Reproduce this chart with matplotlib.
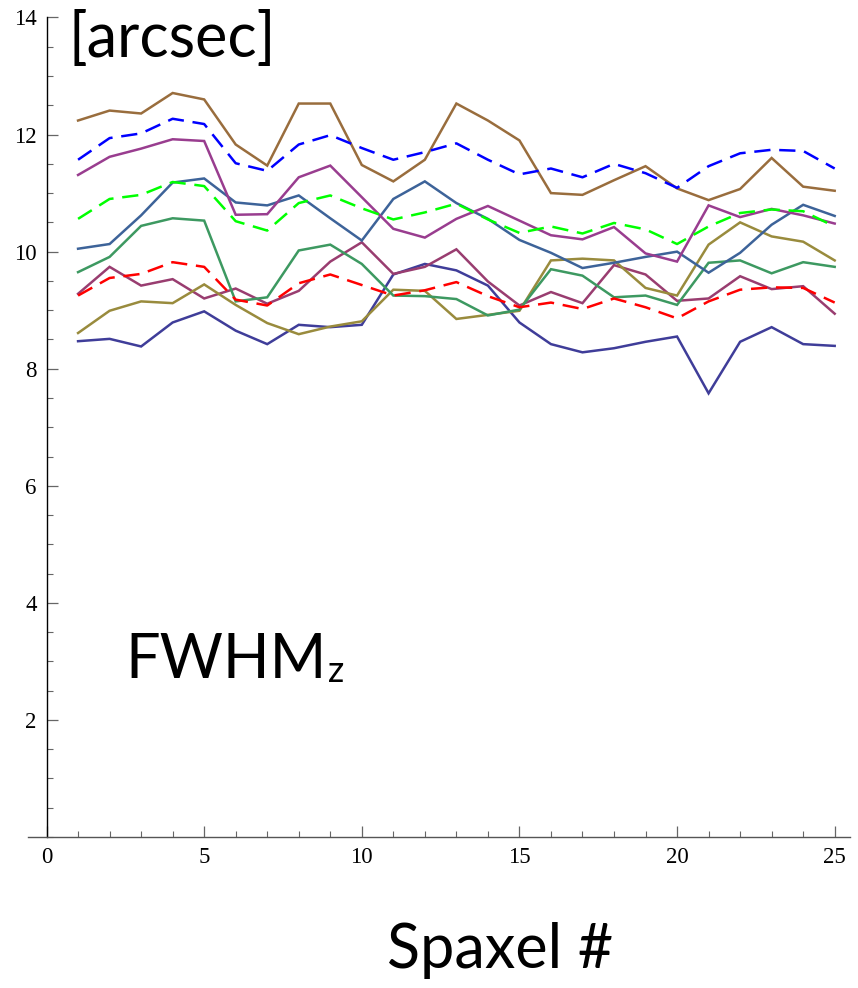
import matplotlib
matplotlib.use("Agg")
import matplotlib.pyplot as plt
from matplotlib.ticker import MultipleLocator

spaxel = list(range(1, 26))

navy = [8.47, 8.51, 8.38, 8.79, 8.98, 8.65, 8.42, 8.75, 8.71, 8.75, 9.61, 9.79, 9.68, 9.42, 8.79,
        8.42, 8.28, 8.35, 8.46, 8.55, 7.58, 8.46, 8.71, 8.42, 8.39]
plum = [9.28, 9.74, 9.42, 9.53, 9.20, 9.37, 9.11, 9.33, 9.83, 10.16, 9.62, 9.74, 10.04, 9.49, 9.08,
        9.31, 9.12, 9.77, 9.61, 9.16, 9.20, 9.58, 9.36, 9.41, 8.94]
olive = [8.61, 8.99, 9.15, 9.12, 9.44, 9.09, 8.78, 8.59, 8.72, 8.81, 9.35, 9.33, 8.85, 8.92, 8.99,
         9.85, 9.88, 9.85, 9.38, 9.25, 10.12, 10.50, 10.26, 10.17, 9.85]
green = [9.65, 9.91, 10.44, 10.57, 10.53, 9.15, 9.22, 10.02, 10.12, 9.79, 9.25, 9.24, 9.19, 8.91, 9.01,
         9.70, 9.59, 9.22, 9.25, 9.09, 9.81, 9.85, 9.63, 9.82, 9.74]
steel = [10.05, 10.13, 10.62, 11.18, 11.25, 10.84, 10.79, 10.96, 10.57, 10.19, 10.90, 11.20, 10.83, 10.56, 10.20,
         9.98, 9.72, 9.81, 9.91, 10.00, 9.64, 9.98, 10.46, 10.80, 10.61]
purple = [11.31, 11.62, 11.76, 11.92, 11.89, 10.63, 10.64, 11.27, 11.47, 10.93, 10.39, 10.24, 10.56, 10.78, 10.53,
          10.28, 10.21, 10.42, 9.97, 9.83, 10.79, 10.59, 10.73, 10.62, 10.48]
brown = [12.24, 12.41, 12.36, 12.71, 12.60, 11.83, 11.47, 12.53, 12.53, 11.48, 11.20, 11.57, 12.53, 12.24, 11.90,
         11.00, 10.97, 11.22, 11.46, 11.08, 10.88, 11.07, 11.60, 11.11, 11.04]
red_dash = [9.25, 9.55, 9.62, 9.82, 9.74, 9.18, 9.08, 9.46, 9.61, 9.43, 9.25, 9.34, 9.48, 9.24, 9.05,
            9.13, 9.02, 9.20, 9.05, 8.86, 9.15, 9.35, 9.39, 9.38, 9.13]
green_dash = [10.56, 10.90, 10.97, 11.19, 11.12, 10.52, 10.36, 10.83, 10.96, 10.74, 10.55, 10.67, 10.82, 10.55, 10.32,
              10.43, 10.31, 10.49, 10.38, 10.13, 10.43, 10.66, 10.72, 10.69, 10.43]
blue_dash = [11.57, 11.94, 12.02, 12.27, 12.18, 11.51, 11.38, 11.83, 11.99, 11.77, 11.57, 11.70, 11.85, 11.57, 11.32,
             11.42, 11.27, 11.50, 11.34, 11.09, 11.46, 11.68, 11.74, 11.72, 11.42]

solid_series = [navy, plum, olive, green, steel, purple, brown]
solid_colors = ["#3f3d99", "#993d70", "#998b3d", "#3d9961", "#3d6399", "#993d8f", "#996d3d"]
dashed_series = [red_dash, green_dash, blue_dash]
dashed_colors = ["#ff0000", "#00ff00", "#0000ff"]

fig = plt.figure(figsize=(8.58, 9.88), dpi=100)
ax = fig.add_axes([0.0322, 0.1528, 0.959, 0.8295])

for s, c in zip(solid_series, solid_colors):
    ax.plot(spaxel, s, color=c, lw=1.8, solid_joinstyle="miter")
for s, c in zip(dashed_series, dashed_colors):
    ax.plot(spaxel, s, color=c, lw=1.8, linestyle=(0, (6.5, 3.5)))

ax.set_xlim(-0.6, 25.5)
ax.set_ylim(0, 14)
for side in ["top", "right"]:
    ax.spines[side].set_visible(False)
ax.spines["left"].set_position(("data", 0))
ax.spines["left"].set_bounds(0, 14)
ax.spines["left"].set_linewidth(1.0)
ax.spines["bottom"].set_linewidth(1.0)
ax.spines["bottom"].set_color("#555555")

ax.xaxis.set_major_locator(MultipleLocator(5))
ax.xaxis.set_minor_locator(MultipleLocator(1))
ax.yaxis.set_major_locator(MultipleLocator(2))
ax.yaxis.set_minor_locator(MultipleLocator(0.5))
ax.tick_params(axis="both", which="major", direction="in", length=8, width=0.9, color="#666666",
               labelsize=16.5, pad=7)
ax.tick_params(axis="both", which="minor", direction="in", length=4, width=0.8, color="#666666")
ax.set_yticks([2, 4, 6, 8, 10, 12, 14])
ax.set_yticklabels(["2", "4", "6", "8", "10", "12", "14"])
for lab in ax.get_xticklabels() + ax.get_yticklabels():
    lab.set_fontfamily("Liberation Serif")

big = dict(family="Lato", fontsize=44, color="black")
fig.text(68 / 858, 1 - 40 / 988, "[arcsec]", va="center", ha="left", **big)
fw = fig.text(125 / 858, 1 - 660 / 988, "FWHM", va="center", ha="left", **big)
ax.annotate("z", xy=(1, 0), xycoords=fw, xytext=(1, 0), textcoords="offset points",
            va="bottom", ha="left", family="Lato", fontsize=26, color="black",
            annotation_clip=False)
fig.text(500 / 858, 1 - 950 / 988, "Spaxel #", va="center", ha="center", **big)

fig.savefig("out.png", dpi=100)
